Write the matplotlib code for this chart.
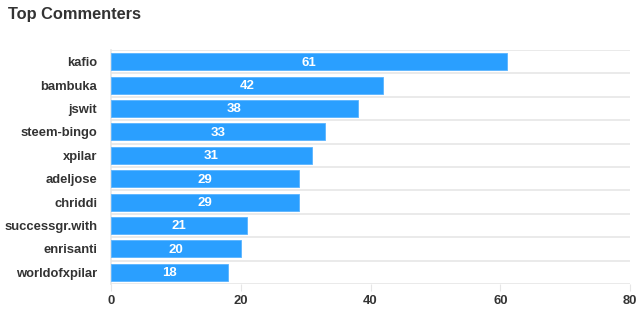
import matplotlib
matplotlib.use("Agg")
import matplotlib.pyplot as plt
import numpy as np

names = ["kafio", "bambuka", "jswit", "steem-bingo", "xpilar", "adeljose",
         "chriddi", "successgr.with", "enrisanti", "worldofxpilar"]
counts = [61, 42, 38, 33, 31, 29, 29, 21, 20, 18]
xticks = [0, 20, 40, 60, 80]

plt.rcParams['font.family'] = ['Liberation Sans', 'DejaVu Sans']

fig = plt.figure(figsize=(6.4, 3.24), dpi=100)
ax = fig.add_axes([111/640, 1-284/324, (630-111)/640, (284-50)/324])

y = np.arange(len(names))
bars = ax.barh(y, counts, height=0.72, color='#2a9fff', edgecolor='#5ab4ff', linewidth=0.6, zorder=3)
ax.set_ylim(len(names)-0.5, -0.5)
ax.set_xlim(0, 80)

for b, v in zip(bars, counts):
    ax.text(v/2, b.get_y()+b.get_height()/2 + 0.04, str(v), ha='center', va='center',
            color='white', fontsize=9.5, fontweight='bold', zorder=4)

for boundary in np.arange(-0.5, len(names)+0.5, 1):
    ax.axhline(boundary, color='#e6e6e6', linewidth=1.2, zorder=1)

ax.set_yticks(y)
ax.set_yticklabels(names, fontsize=9.4, fontweight='bold', color='#333333')
ax.tick_params(axis='y', length=0, pad=10)
ax.set_xticks(xticks)
ax.set_xticklabels([str(t) for t in xticks], fontsize=9.4, fontweight='bold', color='#333333')
ax.tick_params(axis='x', length=5, color='#e6e6e6', pad=3)

for s in ['top', 'right', 'bottom']:
    ax.spines[s].set_visible(False)
ax.spines['left'].set_color('#e6e6e6')
ax.spines['left'].set_linewidth(1.2)

fig.text(8/640, 1-14/324, "Top Commenters", fontsize=11.8, fontweight='bold',
         color='#333333', ha='left', va='center')

fig.savefig("out.png", dpi=100, facecolor='white')
